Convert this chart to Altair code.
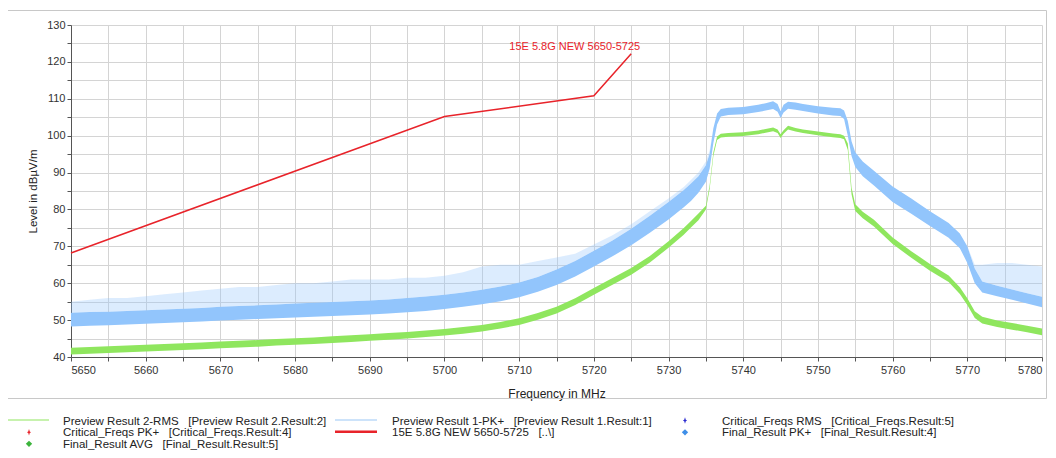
import altair as alt
import pandas as pd

# ---------------- data ----------------
freq = [5650, 5652.5, 5655, 5657.5, 5660, 5662.5, 5665, 5667.5, 5670, 5672.5,
        5675, 5677.5, 5680, 5682.5, 5685, 5687.5, 5690, 5692.5, 5695, 5697.5,
        5700, 5702.5, 5705, 5707.5, 5710, 5712.5, 5715, 5717.5, 5720, 5722.5,
        5725, 5727.5, 5730, 5732, 5733, 5734, 5735, 5735.5, 5736, 5736.5,
        5737, 5738, 5740, 5742, 5743, 5744, 5744.6, 5745, 5745.4, 5746,
        5747, 5748, 5750, 5752, 5753, 5753.5, 5754, 5754.5, 5755, 5756,
        5757.5, 5760, 5762.5, 5765, 5767.5, 5769, 5770, 5771, 5772, 5774,
        5776, 5778, 5780]

# Preview Result 2-RMS (green) centre of the trace
rms_mid = [41.6, 41.8, 42.0, 42.2, 42.4, 42.6, 42.8, 43.0, 43.3, 43.5,
           43.7, 44.0, 44.2, 44.4, 44.7, 45.0, 45.3, 45.6, 45.9, 46.3,
           46.7, 47.2, 47.8, 48.6, 49.6, 51.0, 52.7, 55.0, 57.8, 60.5,
           63.2, 66.5, 70.5, 74.0, 76.0, 78.0, 80.5, 86.0, 95.0, 99.3,
           100.0, 100.2, 100.4, 100.9, 101.3, 101.7, 101.2, 99.9, 101.0, 102.2,
           101.6, 101.2, 100.6, 100.1, 99.9, 99.5, 97.0, 85.0, 80.5, 78.5,
           76.3, 71.5, 67.8, 64.3, 61.2, 58.0, 55.0, 51.5, 50.0, 49.0,
           48.3, 47.6, 46.8]
# half thickness of the noisy green band
rms_half = [0.9] * 36 + [0.5] * 20 + [0.9] * 17

# Preview Result 1-PK+ (blue): dense band low / high and spike tops
pk_lo = [48.3, 48.5, 48.6, 48.8, 49.0, 49.2, 49.4, 49.6, 49.9, 50.1,
         50.3, 50.5, 50.7, 50.9, 51.1, 51.3, 51.5, 51.8, 52.1, 52.5,
         53.0, 53.6, 54.3, 55.1, 56.2, 57.7, 59.5, 61.8, 64.5, 67.3,
         70.3, 73.7, 77.3, 80.5, 82.3, 84.5, 87.5, 91.0, 98.0, 103.0,
         105.2, 105.6, 105.8, 106.4, 106.8, 107.2, 106.5, 104.8, 106.3, 107.3,
         107.0, 106.7, 106.0, 105.5, 105.3, 104.5, 100.0, 94.5, 91.5, 89.0,
         86.5, 82.0, 78.8, 75.5, 72.3, 69.5, 65.5, 60.0, 57.5, 56.5,
         55.5, 54.5, 53.5]
pk_hi = [52.0, 52.2, 52.3, 52.5, 52.7, 52.9, 53.1, 53.3, 53.6, 53.8,
         54.0, 54.2, 54.5, 54.7, 54.9, 55.1, 55.3, 55.6, 56.0, 56.4,
         56.9, 57.5, 58.2, 59.1, 60.2, 61.7, 63.7, 66.0, 68.8, 71.6,
         74.8, 78.3, 82.0, 85.2, 87.0, 89.0, 92.0, 95.0, 102.0, 106.0,
         107.2, 107.6, 107.8, 108.4, 108.8, 109.3, 108.6, 106.6, 108.4, 109.2,
         109.0, 108.6, 108.0, 107.6, 107.4, 106.8, 104.0, 98.5, 95.5, 93.0,
         90.5, 86.2, 83.0, 79.5, 76.3, 73.5, 70.0, 64.0, 60.5, 59.3,
         58.3, 57.3, 56.3]
pk_spike = [55.0, 55.5, 56.0, 56.0, 56.5, 57.0, 57.5, 58.0, 58.5, 59.0,
            59.0, 59.5, 60.0, 60.0, 60.5, 61.0, 61.0, 61.0, 61.5, 61.5,
            62.0, 63.0, 64.5, 65.0, 65.0, 66.0, 67.0, 68.0, 70.5, 73.0,
            76.0, 79.5, 83.0, 86.0, 88.0, 90.0, 93.0, 96.0, 102.0, 106.0,
            107.2, 107.6, 107.8, 108.4, 108.8, 109.3, 108.6, 106.6, 108.4, 109.2,
            109.0, 108.6, 108.0, 107.6, 107.4, 106.8, 104.0, 98.5, 95.5, 93.0,
            90.5, 86.2, 83.0, 79.5, 76.3, 73.5, 70.0, 65.0, 65.0, 65.5,
            65.5, 65.0, 64.5]

# limit line 15E 5.8G NEW 5650-5725
limit_freq = [5650, 5700, 5720, 5725]
limit_level = [68.2, 105.2, 110.8, 122.2]
limit_label = "15E 5.8G NEW 5650-5725"
limit_label_pos = [5726.2, 124.0]

x_ticks = list(range(5650, 5781, 5))
y_ticks = list(range(40, 131, 5))

legend_labels = [
    "Preview Result 2-RMS\u00a0\u00a0\u00a0[Preview Result 2.Result:2]",
    "Preview Result 1-PK+\u00a0\u00a0\u00a0[Preview Result 1.Result:1]",
    "Critical_Freqs RMS\u00a0\u00a0\u00a0[Critical_Freqs.Result:5]",
    "Critical_Freqs PK+\u00a0\u00a0\u00a0[Critical_Freqs.Result:4]",
    "15E 5.8G NEW 5650-5725\u00a0\u00a0\u00a0[..\\]",
    "Final_Result PK+\u00a0\u00a0\u00a0[Final_Result.Result:4]",
    "Final_Result AVG\u00a0\u00a0\u00a0[Final_Result.Result:5]",
]

# ---------------- styling ----------------
GREEN = "#8fe65e"
BLUE = "#92c5fc"
RED = "#e8232a"
FONT = "Liberation Sans"
W, H = 971, 332

df = pd.DataFrame({
    "f": freq,
    "rms_lo": [m - h for m, h in zip(rms_mid, rms_half)],
    "rms_hi": [m + h for m, h in zip(rms_mid, rms_half)],
    "pk_lo": pk_lo, "pk_hi": pk_hi, "pk_spike": pk_spike,
})
lim = pd.DataFrame({"f": limit_freq, "v": limit_level})

xs = alt.Scale(domain=[5650, 5780], nice=False, zero=False)
ys = alt.Scale(domain=[40, 130], nice=False, zero=False)

common = dict(format="d", grid=True, gridColor="#d4d4d4", gridWidth=1,
              domainColor="#555555", tickColor="#555555", tickSize=4,
              labelFont=FONT, labelFontSize=11, labelColor="#333333",
              labelOverlap=False, labelBound=False, titleFont=FONT,
              titleFontWeight="normal", titleColor="#222222")
xaxis = alt.Axis(values=x_ticks, labelExpr="datum.value % 10 == 0 ? datum.label : ''",
                 labelPadding=3, title="Frequency in MHz", titleFontSize=12,
                 titleX=W / 2, titleY=36, titleBaseline="middle", **common)
yaxis = alt.Axis(values=y_ticks, labelExpr="datum.value % 10 == 0 ? datum.label : ''",
                 labelPadding=2, title="Level in dB\u00b5V/m", titleFontSize=11.5,
                 titleX=-38, titleY=H / 2, titleAngle=-90,
                 titleBaseline="middle", titleAlign="center", **common)

X = alt.X("f:Q", scale=xs, axis=xaxis)

base = alt.Chart(df)
spikes = base.mark_area(color=BLUE, opacity=0.32).encode(
    x=X, y=alt.Y("pk_hi:Q", scale=ys, axis=yaxis), y2="pk_spike:Q")
pk = base.mark_area(color=BLUE, opacity=1).encode(
    x=X, y=alt.Y("pk_lo:Q", scale=ys, axis=yaxis), y2="pk_hi:Q")
rms = base.mark_area(color=GREEN, opacity=1).encode(
    x=X, y=alt.Y("rms_lo:Q", scale=ys, axis=yaxis), y2="rms_hi:Q")
limit = alt.Chart(lim).mark_line(color=RED, strokeWidth=1.5).encode(
    x=X, y=alt.Y("v:Q", scale=ys, axis=yaxis))
lab = alt.Chart(pd.DataFrame({"f": [limit_label_pos[0]], "v": [limit_label_pos[1]],
                              "t": [limit_label]})).mark_text(
    color=RED, font=FONT, fontSize=11, align="right", baseline="middle").encode(
    x=X, y=alt.Y("v:Q", scale=ys, axis=yaxis), text="t:N")

one = pd.DataFrame({"k": [0]})
# outer frame
frame = alt.Chart(one).mark_rect(fill=None, stroke="#c8c8c8", strokeWidth=1).encode(
    x=alt.value(-63.5), x2=alt.value(975.5), y=alt.value(-14.5), y2=alt.value(373.5))

# legend below the frame
col_sym = [[-64, -22], [264, 306], [614, 614], [-42, -42], [264, 306], [614, 614], [-42, -42]]
col_txt = [-8, 321, 651, -8, 321, 651, -8]
rows = [396.5, 396.5, 396.5, 408.3, 408.3, 408.3, 419.8]
kinds = ["line", "line", "star", "star", "line", "diamond", "diamond"]
colors = [GREEN, "#bcdaf8", "#2a2ad0", RED, RED, "#3f8fe8", "#3cb43c"]
widths = [1.2, 1.5, 0, 0, 2.5, 0, 0]
STAR = "M0,-1.2L0.28,-0.28L0.75,0L0.28,0.28L0,1.2L-0.28,0.28L-0.75,0L-0.28,-0.28Z"

legend_layers = []
for i, text in enumerate(legend_labels):
    if kinds[i] == "line":
        legend_layers.append(alt.Chart(one).mark_rule(color=colors[i], strokeWidth=widths[i]).encode(
            x=alt.value(col_sym[i][0]), x2=alt.value(col_sym[i][1]), y=alt.value(rows[i] - 1.5)))
    elif kinds[i] == "star":
        legend_layers.append(alt.Chart(one).mark_point(shape=STAR, filled=True, color=colors[i],
                                                       size=30, opacity=1).encode(
            x=alt.value(col_sym[i][0]), y=alt.value(rows[i] - 1)))
    else:
        legend_layers.append(alt.Chart(one).mark_point(shape="diamond", filled=True, color=colors[i],
                                                       size=40, opacity=1).encode(
            x=alt.value(col_sym[i][0]), y=alt.value(rows[i] - 1)))
    legend_layers.append(alt.Chart(one).mark_text(align="left", baseline="middle", font=FONT,
                                                  fontSize=11.5, color="#222222").encode(
        x=alt.value(col_txt[i]), y=alt.value(rows[i]), text=alt.value(text)))

chart = alt.layer(spikes, pk, rms, limit, lab, frame, *legend_layers).properties(
    width=W, height=H,
    padding={"left": 63, "top": 17, "right": 6, "bottom": 93},
    autosize=alt.AutoSizeParams(type="none"),
    background="white",
).configure_view(stroke=None)

chart.save("out.html", embed_options={"renderer": "svg", "actions": False})
